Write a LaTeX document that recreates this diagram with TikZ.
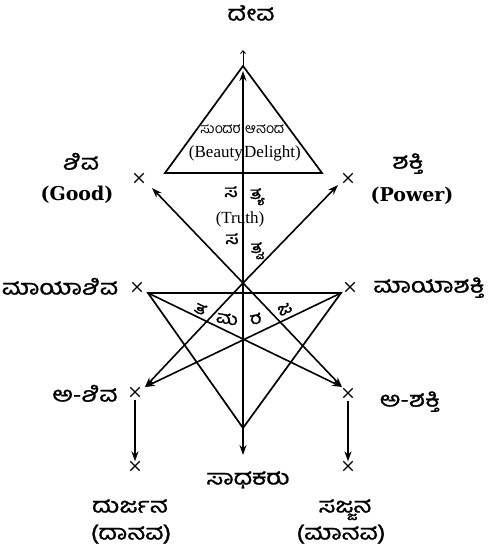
\documentclass[tikz,border=0pt]{standalone}
\usepackage{fontspec}
\setmainfont{DejaVu Serif}
\newfontfamily\kn[Script=Kannada,FakeStretch=1.2,FakeBold=1.2]{Hind Mysuru}
\newfontfamily\kns[Script=Kannada]{Hind Mysuru}
\newfontfamily\hand{Liberation Serif}
\usetikzlibrary{arrows.meta,shapes.misc}
\begin{document}
\begin{tikzpicture}[x=1pt,y=-1pt,
  ln/.style={line width=1.6pt},
  arr/.style={ln,-{Stealth[length=10pt,width=7pt]}},
  xm/.style={cross out,draw,line width=1.3pt,minimum size=8pt,inner sep=0pt},
  kl/.style={font=\kn\fontsize{21}{24}\selectfont,inner sep=0pt,text height=14pt,text depth=5pt},
  km/.style={font=\kn\fontsize{17}{20}\selectfont,inner sep=0pt,text height=11pt,text depth=3pt},
  ks/.style={font=\kns\fontsize{14}{16}\selectfont,inner sep=0pt},
  el/.style={font=\bfseries\fontsize{19}{22}\selectfont,inner sep=0pt},
  hl/.style={font=\hand\fontsize{17}{20}\selectfont,inner sep=0pt}]
\path[use as bounding box,fill=white] (0,0) rectangle (487,556);
% key points
\coordinate (apex) at (243,66);
\coordinate (bl) at (165,173);
\coordinate (br) at (322,173);
\coordinate (top) at (243,50);
\coordinate (topin) at (243,71);
\coordinate (O) at (243,283);
\coordinate (C) at (243,338);
\coordinate (L) at (148,293);
\coordinate (R) at (341,293);
\coordinate (V) at (243,428);
\coordinate (bot) at (243,455);
\coordinate (shivaT) at (152,188);
\coordinate (shaktiT) at (338,185);
\coordinate (ashivaT) at (145,387);
\coordinate (ashaktiT) at (342,387);
% cross marks
\node[xm] (shivaX) at (139,178) {};
\node[xm] (shaktiX) at (348,178) {};
\node[xm] (mshivaX) at (137,287) {};
\node[xm] (mshaktiX) at (350,287) {};
\node[xm] (ashivaX) at (135,392) {};
\node[xm] (ashaktiX) at (348,393) {};
\node[xm] (durX) at (135,466) {};
\node[xm] (sajX) at (348,466) {};
% upper triangle
\draw[line width=1.7pt,line join=miter] (apex) -- (bl) -- (br) -- cycle;
% lower triangle
\draw[line width=1.7pt] (L) -- (R) -- (V) -- cycle;
% vertical axis
\draw[ln,{Stealth[length=10pt,width=7pt]}-{Stealth[length=10pt,width=7pt]}] (bot) -- (topin);
\draw[line width=0.9pt,-{Straight Barb[length=3pt,width=5pt]}] (apex) -- (top);
% diagonal arrows
\draw[arr] (O) -- (shivaT);
\draw[arr] (O) -- (shaktiT);
\draw[arr] (O) -- (ashivaT);
\draw[arr] (O) -- (ashaktiT);
\draw[arr] (R) -- (ashivaT);
\draw[arr] (L) -- (ashaktiT);
% descending arrows
\draw[arr,shorten <=3pt] (ashivaX) -- (durX);
\draw[arr,shorten <=3pt] (ashaktiX) -- (sajX);
% labels
\node[kl] (deva) at (251,16) {ದೇವ};
\node[kl] (shiva) at (81,165) {ಶಿವ};
\node[el] (good) at (77,195) {(Good)};
\node[kl] (shakti) at (408,164) {ಶಕ್ತಿ};
\node[el] (power) at (412,196) {(Power)};
\node[kl] (mshiva) at (60,290) {ಮಾಯಾಶಿವ};
\node[kl] (mshakti) at (429,288) {ಮಾಯಾಶಕ್ತಿ};
\node[kl] (ashiva) at (85,397) {ಅ-ಶಿವ};
\node[kl] (ashakti) at (410,402) {ಅ-ಶಕ್ತಿ};
\node[kl] (sadhaka) at (248,480) {ಸಾಧಕರು};
\node[kl] (durjana) at (130,508) {ದುರ್ಜನ};
\node[kl] (danava) at (131,535) {(ದಾನವ)};
\node[kl] (sajjana) at (345,508) {ಸಜ್ಜನ};
\node[kl] (manava) at (341,535) {(ಮಾನವ)};
% inside the upper triangle
\node[ks,anchor=east] (sundara) at (241,129) {ಸುಂದರ};
\node[ks,anchor=west] (ananda) at (245,129) {ಆನಂದ};
\node[hl,anchor=east] (beauty) at (243,153) {(Beauty};
\node[hl,anchor=west] (delight) at (244,153) {Delight)};
\node[km] (sa1) at (231,193) {ಸ};
\node[km] (tya) at (257,195) {ತ್ಯ};
\node[hl] (truth) at (240,219) {(Truth)};
\node[km] (sa2) at (232,240) {ಸ};
\node[km] (tva) at (257,249) {ತ್ವ};
% star letters
\node[km,rotate=-25] (ta) at (200,310) {ತ};
\node[km,rotate=-10] (ma) at (227,320) {ಮ};
\node[km,rotate=10] (ra) at (256,320) {ರ};
\node[km,rotate=25] (ja) at (285,310) {ಜ};
\end{tikzpicture}
\end{document}
